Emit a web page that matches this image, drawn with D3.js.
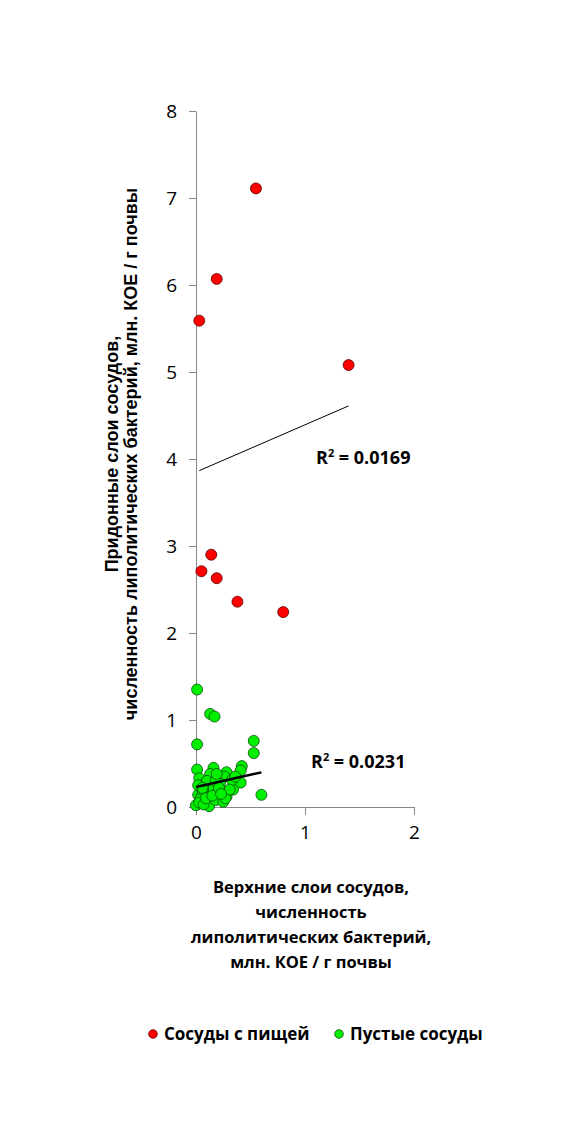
<!DOCTYPE html>
<html>
<head>
<meta charset="utf-8">
<script src="https://cdn.jsdelivr.net/npm/d3@7"></script>
<style>
  body { margin: 0; background: #fff; }
</style>
</head>
<body>
<script>
// Верхние / придонные слои, сосуды с пищей
const foodX = [0.55, 0.19, 0.03, 1.40, 0.14, 0.05, 0.19, 0.38, 0.80];
const foodY = [7.11, 6.07, 5.59, 5.08, 2.90, 2.71, 2.63, 2.36, 2.24];

// пустые сосуды
const emptyX = [0.01, 0.13, 0.17, 0.01, 0.53, 0.53, 0.60, 0.01, 0.16, 0.42,
                0.41, 0.13, 0.28, 0.26, 0.03, 0.41, 0.34, 0.33, 0.22, 0.14,
                0.08, 0.20, 0.28, 0.12, 0.00, 0.045, 0.18, 0.08, 0.02, 0.25,
                0.11, 0.16, 0.02, 0.05, 0.27, 0.31, 0.04, 0.06, 0.10, 0.18,
                0.03, 0.07, 0.09, 0.15, 0.21, 0.23, 0.06, 0.19, 0.36];
const emptyY = [1.35, 1.07, 1.04, 0.72, 0.76, 0.62, 0.14, 0.43, 0.45, 0.47,
                0.42, 0.38, 0.40, 0.35, 0.33, 0.28, 0.20, 0.31, 0.27, 0.25,
                0.27, 0.17, 0.12, 0.01, 0.02, 0.06, 0.08, 0.17, 0.14, 0.06,
                0.17, 0.21, 0.25, 0.12, 0.10, 0.20, 0.09, 0.20, 0.30, 0.30,
                0.05, 0.03, 0.10, 0.13, 0.22, 0.15, 0.22, 0.38, 0.35];

// linear trend lines: [intercept, slope]
const foodFit = [3.85, 0.543];
const emptyFit = [0.23, 0.28];

const xTicks = [0, 1, 2];
const yTicks = [0, 1, 2, 3, 4, 5, 6, 7, 8];
const r2Labels = ["0.0169", "0.0231"];
const legendLabels = ["Сосуды с пищей", "Пустые сосуды"];
const yTitle = ["Придонные слои сосудов,", "численность липолитических бактерий,  млн. КОЕ / г почвы"];
const xTitle = ["Верхние слои сосудов,", "численность", "липолитических бактерий,", "млн. КОЕ / г почвы"];

const W = 567, H = 1134;
const svg = d3.select("body").append("svg")
    .attr("width", W).attr("height", H)
    .style("background", "#fff");

const x = d3.scaleLinear().domain([0, 2]).range([196, 414]);
const y = d3.scaleLinear().domain([0, 8]).range([807, 111]);

const font = "'Open Sans', 'Liberation Sans', sans-serif";

// axes
const yAxis = svg.append("g")
    .attr("transform", `translate(${x(0)},0)`)
    .call(d3.axisLeft(y).tickValues(yTicks).tickFormat(d3.format("d"))
        .tickSize(7).tickSizeOuter(0).tickPadding(12));
const xAxis = svg.append("g")
    .attr("transform", `translate(0,${y(0)})`)
    .call(d3.axisBottom(x).tickValues(xTicks).tickFormat(d3.format("d"))
        .tickSize(8).tickSizeOuter(0).tickPadding(11));

[xAxis, yAxis].forEach(g => {
    g.select(".domain").attr("stroke", "#868686");
    g.selectAll(".tick line").attr("stroke", "#868686");
    g.selectAll(".tick text")
        .attr("fill", "#000")
        .style("font-family", font)
        .style("font-size", "19px");
});

function trend(xs, fit, width) {
    const ext = d3.extent(xs);
    svg.append("line")
        .attr("x1", x(ext[0])).attr("y1", y(fit[0] + fit[1] * ext[0]))
        .attr("x2", x(ext[1])).attr("y2", y(fit[0] + fit[1] * ext[1]))
        .attr("stroke", "#000")
        .attr("stroke-width", width);
}

// points
svg.append("g").selectAll("circle")
    .data(d3.zip(foodX, foodY))
    .join("circle")
    .attr("cx", d => x(d[0])).attr("cy", d => y(d[1]))
    .attr("r", 5.5)
    .attr("fill", "#ff0000")
    .attr("stroke", "#5a0000")
    .attr("stroke-width", 0.8);

svg.append("g").selectAll("circle")
    .data(d3.zip(emptyX, emptyY))
    .join("circle")
    .attr("cx", d => x(d[0])).attr("cy", d => y(d[1]))
    .attr("r", 5.5)
    .attr("fill", "#00f000")
    .attr("stroke", "#0a4a0a")
    .attr("stroke-width", 0.8);

trend(foodX, foodFit, 1);
trend(emptyX, emptyFit, 2.5);

// R² labels
function r2(xPos, yPos, val) {
    const t = svg.append("text")
        .attr("x", xPos).attr("y", yPos)
        .style("font-family", font)
        .style("font-weight", "bold")
        .style("font-size", "18px");
    t.append("tspan").text("R");
    t.append("tspan").attr("dy", -7).style("font-size", "11px").text("2");
    t.append("tspan").attr("dy", 7).text(" = " + val);
}
r2(316, 464, r2Labels[0]);
r2(311, 768, r2Labels[1]);

// y title
const yt = svg.append("text")
    .attr("transform", `translate(0,454) rotate(-90)`)
    .attr("text-anchor", "middle")
    .style("font-family", "'Liberation Sans', Arial, sans-serif")
    .style("font-weight", "bold")
    .style("font-size", "18px");
yTitle.forEach((line, i) => {
    yt.append("tspan").attr("x", 0).attr("y", 118 + i * 19).text(line);
});

// x title
const xt = svg.append("text")
    .attr("text-anchor", "middle")
    .style("font-family", font)
    .style("font-weight", "bold")
    .style("font-size", "16.5px");
xTitle.forEach((line, i) => {
    xt.append("tspan").attr("x", 311).attr("y", 893 + i * 25).text(line);
});

// legend
const legendColors = [["#ff0000", "#5a0000"], ["#00f000", "#0a4a0a"]];
const legendX = [153, 339];
legendLabels.forEach((lab, i) => {
    svg.append("circle")
        .attr("cx", legendX[i]).attr("cy", 1034).attr("r", 4.3)
        .attr("fill", legendColors[i][0])
        .attr("stroke", legendColors[i][1])
        .attr("stroke-width", 0.8);
    svg.append("text")
        .attr("x", legendX[i] + 11).attr("y", 1040)
        .style("font-family", font)
        .style("font-weight", "bold")
        .style("font-size", "17px")
        .text(lab);
});
</script>
</body>
</html>
